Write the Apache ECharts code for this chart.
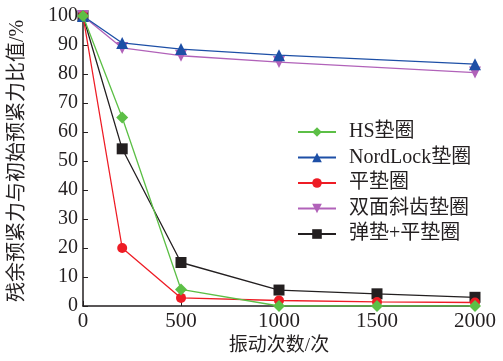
<!DOCTYPE html>
<html><head><meta charset="utf-8">
<script src="https://cdn.jsdelivr.net/npm/echarts@6/dist/echarts.min.js"></script>
<style>html,body{margin:0;padding:0;background:#fff}#c{width:503px;height:361px}</style>
</head><body><div id="c"></div>
<script>
var seriesNames = ['HS垫圈','NordLock垫圈','平垫圈','双面斜齿垫圈','弹垫+平垫圈'];
var hsX = [0,200,500,1000,1500,2000];
var hsY = [100,65,5.7,0,0,0];
var nordX = [0,200,500,1000,2000];
var nordY = [100,90.7,88.6,86.5,83.4];
var flatX = [0,200,500,1000,1500,2000];
var flatY = [100,20,2.8,1.9,1.4,1.2];
var bevelX = [0,200,500,1000,2000];
var bevelY = [100,89,86.3,84.1,80.5];
var springX = [0,200,500,1000,1500,2000];
var springY = [100,54.2,15,5.5,4.2,3];
var xTicks = [0,500,1000,1500,2000];
var yTicks = [0,10,20,30,40,50,60,70,80,90,100];

function pairs(xs, ys){ return xs.map(function(x,i){return [x, ys[i]];}); }
var font = "'Liberation Serif','Noto Sans CJK SC',serif";
var colors = ['#5cbf46','#1d4fa6','#ee1c25','#b162b9','#231f20'];
var symbols = ['diamond','triangle','circle','triangle','rect'];
var rot = [0,0,0,180,0];
var sizes = [12,12,10,12,11];
var datas = [pairs(hsX,hsY),pairs(nordX,nordY),pairs(flatX,flatY),pairs(bevelX,bevelY),pairs(springX,springY)];

var chart = echarts.init(document.getElementById('c'), null, {renderer:'canvas'});
chart.setOption({
  animation:false,
  textStyle:{fontFamily:font},
  grid:{left:80,right:28,top:16,bottom:55},
  legend:{
    orient:'vertical', left:292, top:117, itemWidth:38, itemHeight:12, itemGap:5.5,
    textStyle:{fontFamily:font,fontSize:20,lineHeight:20,color:'#231f20',padding:[0,0,0,8]},
    data: seriesNames
  },
  xAxis:{type:'value',min:xTicks[0],max:xTicks[xTicks.length-1],interval:500,
    name:'振动次数/次',nameLocation:'middle',nameGap:28,
    nameTextStyle:{fontFamily:font,fontSize:19,color:'#231f20'},
    axisLine:{lineStyle:{color:'#231f20',width:1.5}},
    axisTick:{inside:true,length:5,lineStyle:{color:'#231f20'}},
    axisLabel:{fontFamily:font,fontSize:21,color:'#231f20',margin:5,formatter:function(v){return String(v);}},
    splitLine:{show:false}},
  yAxis:{type:'value',min:yTicks[0],max:yTicks[yTicks.length-1],interval:10,
    name:'残余预紧力与初始预紧力比值/%',nameLocation:'middle',nameGap:55,nameRotate:90,
    nameTextStyle:{fontFamily:font,fontSize:20,color:'#231f20'},
    axisLine:{show:true,lineStyle:{color:'#231f20',width:1.5}},
    axisTick:{show:true,inside:true,length:5,lineStyle:{color:'#231f20'}},
    axisLabel:{fontFamily:font,fontSize:20,color:'#231f20',margin:5},
    splitLine:{show:false}},
  series: seriesNames.map(function(n,i){
    return {name:n,type:'line',data:datas[i],symbol:symbols[i],symbolRotate:rot[i],symbolSize:sizes[i],
      showAllSymbol:true,
      lineStyle:{color:colors[i],width:1.3},itemStyle:{color:colors[i]},z:10-i};
  })
});
</script></body></html>
